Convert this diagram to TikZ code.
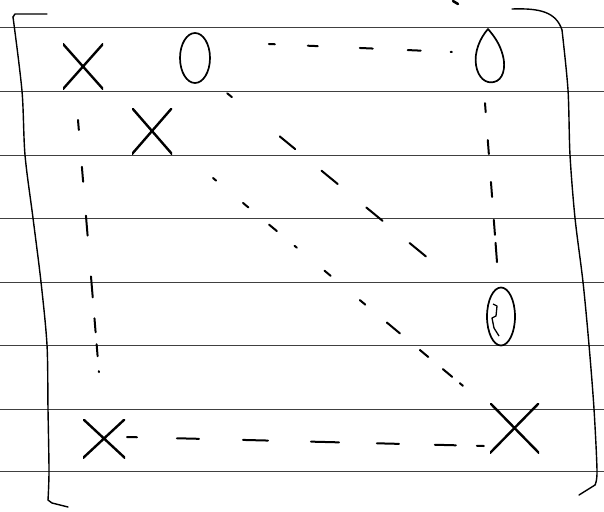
\documentclass[tikz,border=0pt]{standalone}
\usetikzlibrary{shapes.geometric}
\begin{document}
\begin{tikzpicture}[x=1pt,y=-1pt,
  rule/.style={line width=1pt, draw=black!75},
  pen/.style={line width=1.4pt, line cap=round, line join=round},
  xmark/.style={inner sep=0pt, outer sep=0pt,
    path picture={\draw[line width=2.4pt, line cap=round]
      (path picture bounding box.north west) -- (path picture bounding box.south east)
      (path picture bounding box.north east) -- (path picture bounding box.south west);}},
  omark/.style={ellipse, draw, line width=1.7pt, inner sep=0pt},
  dashline/.style={line width=2pt, line cap=round}
]
\useasboundingbox[fill=white] (0,0) rectangle (604,511);

% ruled paper
\foreach \yy in {28,91,155,218,282,345,409,471}
  \draw[rule] (0,\yy) -- (604,\yy);

% entries
\node[xmark, minimum width=40pt, minimum height=45pt] (x11) at (83,66.5) {};
\node[xmark, minimum width=40pt, minimum height=46pt] (x22) at (152,131) {};
\node[xmark, minimum width=42pt, minimum height=39pt] (xn1) at (104,438.5) {};
\node[xmark, minimum width=49pt, minimum height=50pt] (xnn) at (514.5,428) {};
\node[omark, minimum width=30pt, minimum height=50pt] (o12) at (195,58) {};
\node[omark, minimum width=28pt, minimum height=58pt] (o5) at (501,316.5) {};
\node[ellipse, inner sep=0pt, minimum width=30pt, minimum height=54pt] (o1n) at (490,56) {};
\draw[line width=1.7pt, line join=round] (488,29) .. controls (480,38) and (474,52) .. (476,65)
  .. controls (478,78) and (486,84) .. (494,82) .. controls (503,80) and (506,68) .. (503,56)
  .. controls (500,44) and (494,36) .. (488,29) -- cycle;
\draw[line width=1.3pt, line join=round] (493,304) -- (497,306) -- (496,316) -- (492,318) -- (494,328) -- (499,336);

% brackets
\draw[pen] (47,14) -- (15,14) -- (13,17);
\draw[pen] plot[smooth, tension=0.5] coordinates {(13,17) (22,91) (25,155) (33,218) (41,282) (47,345) (48,409) (49,471) (48,500)};
\draw[pen] (48,500) -- (52,503) -- (68,507);
\draw[pen] (512,9) .. controls (540,8) and (556,12) .. (562,30);
\draw[pen] plot[smooth, tension=0.5] coordinates {(562,30) (568,90) (570,155) (575,218) (583,282) (589,345) (594,409) (597,471) (595,485)};
\draw[pen] (595,485) -- (579,495);
\draw[line width=2.5pt, line cap=round] (453,1) -- (458,4);

% dashed connectors
\draw[dashline, dash pattern=on 6pt off 33pt on 10pt off 42pt on 13pt off 35pt on 13pt off 30pt on 2pt off 20pt]
  ([shift={(58,-14)}]o12.east) -- ([shift={(-23,-4)}]o1n.west);
\draw[dashline, dash pattern=on 10pt off 37pt on 15pt off 34pt on 20pt off 41pt on 21pt off 21pt on 14pt off 12pt on 12pt off 15pt on 1pt off 20pt]
  ([shift={(-5,31)}]x11.south) -- ([shift={(-5,-46)}]xn1.north);
\draw[dashline, dash pattern=on 9pt off 28pt on 14pt off 28pt on 15pt off 23pt on 15pt off 8pt on 20pt off 20pt]
  ([shift={(-5,20)}]o1n.south) -- ([shift={(-4,-24.5)}]o5.north);
\draw[dashline, dash pattern=on 10pt off 40pt on 22pt off 44pt on 25pt off 43pt on 28pt off 38pt on 22pt off 36pt on 21pt off 21pt on 7pt off 20pt]
  ([shift={(2,-1.5)}]xn1.east) -- ([shift={(-6,18)}]xnn.west);
\draw[dashline, dash pattern=on 6pt off 62pt on 20pt off 34pt on 21pt off 37pt on 21pt off 35pt on 21pt off 19pt on 1pt off 20pt]
  ([shift={(21,17)}]o12.south east) -- ([shift={(-50,-27)}]o5.north west);
\draw[dashline, dash pattern=on 4pt off 35pt on 7pt off 27pt on 10pt off 23pt on 3pt off 36pt on 8pt off 38pt on 7pt off 28pt on 17pt off 26pt on 11pt off 19pt on 12pt off 10pt on 4pt off 20pt]
  ([shift={(41,24)}]x22.south east) -- ([shift={(-22,-13)}]xnn.north west);
\end{tikzpicture}
\end{document}
